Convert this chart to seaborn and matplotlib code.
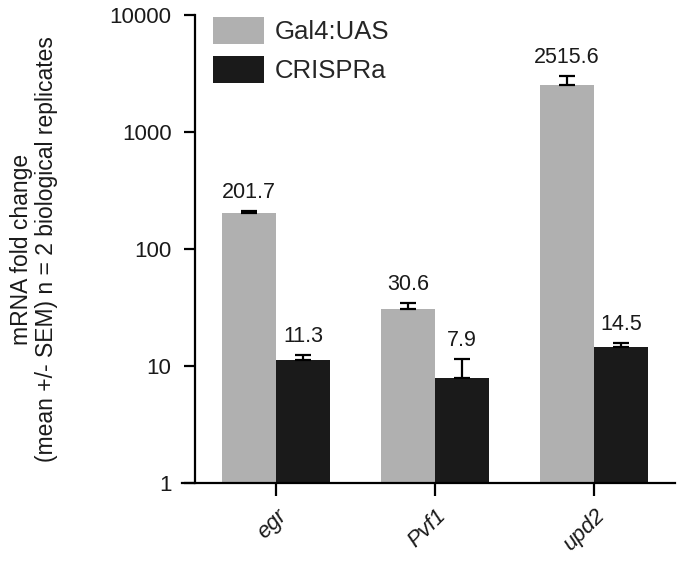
import matplotlib
matplotlib.use('Agg')
import matplotlib.pyplot as plt
import seaborn as sns
import pandas as pd
import numpy as np

genes = ['egr', 'Pvf1', 'upd2']
methods = ['Gal4:UAS', 'CRISPRa']
gal4_mean = [201.7, 30.6, 2515.6]
gal4_sem = [10.0, 4.0, 480.0]
crispra_mean = [11.3, 7.9, 14.5]
crispra_sem = [1.0, 3.6, 1.1]
colors = ['#b0b0b0', '#1a1a1a']
yticks = [1, 10, 100, 1000, 10000]
ytick_labels = ['1', '10', '100', '1000', '10000']
ylabel = 'mRNA fold change\n(mean +/- SEM) n = 2 biological replicates'

df = pd.DataFrame({
    'gene': genes * 2,
    'method': [methods[0]] * 3 + [methods[1]] * 3,
    'value': gal4_mean + crispra_mean,
})
sems = [gal4_sem, crispra_sem]
means = [gal4_mean, crispra_mean]

sns.set_theme(style='ticks')
plt.rcParams['font.family'] = ['Liberation Sans', 'DejaVu Sans']
plt.rcParams['font.size'] = 16

fig = plt.figure(figsize=(6.77, 5.61), dpi=100)
ax = fig.add_axes([182 / 677, 1 - 483 / 561, 493 / 677, 468 / 561])

sns.barplot(data=df, x='gene', y='value', hue='method', palette=colors,
            width=0.68, gap=0, saturation=1, errorbar=None, ax=ax,
            linewidth=0)
ax.set_yscale('log')
ax.set_ylim(1, 10000)
ax.set_xlim(-0.591, 2.509)

for s in ['top', 'right']:
    ax.spines[s].set_visible(False)
ax.spines['left'].set_position(('axes', 13 / 493))
for s in ['left', 'bottom']:
    ax.spines[s].set_linewidth(1.6)
    ax.spines[s].set_color('black')

bar_conts = list(ax.containers)
for ci, cont in enumerate(bar_conts):
    for bi, patch in enumerate(cont.patches):
        x = patch.get_x() + patch.get_width() / 2
        m = means[ci][bi]
        e = sems[ci][bi]
        ax.errorbar([x], [m], yerr=[[0], [e]], fmt='none', ecolor='black',
                    elinewidth=1.6, capsize=5.5, capthick=1.6, zorder=3)
        ax.annotate(f'{m}', xy=(x, m + e), xytext=(0, 6),
                    textcoords='offset points', ha='center', va='bottom',
                    fontsize=15.5, color='#1a1a1a')

ax.set_yticks(yticks)
ax.set_yticklabels(ytick_labels, fontsize=16)
ax.yaxis.set_minor_locator(matplotlib.ticker.NullLocator())
ax.set_xticks(range(len(genes)))
ax.set_xticklabels(genes, rotation=45, ha='right', rotation_mode='anchor',
                   fontstyle='italic', fontsize=16)
ax.tick_params(axis='y', length=8, width=1.6, color='black', pad=9,
               labelcolor='#1a1a1a')
ax.tick_params(axis='x', length=9, width=1.6, color='black', pad=7,
               labelcolor='#1a1a1a')
ax.set_xlabel('')
ax.set_ylabel('')

handles, labels = ax.get_legend_handles_labels()
ax.legend(handles, labels, loc='upper left',
          bbox_to_anchor=(213 / 677, 1 - 17 / 561),
          bbox_transform=fig.transFigure, frameon=False, borderpad=0,
          borderaxespad=0, handlelength=2.0, handleheight=1.25,
          handletextpad=0.4, labelspacing=0.45, fontsize=18.5)

fig.text(34 / 677, 1 - 249 / 561, ylabel, rotation=90, ha='center',
         va='center', multialignment='center', fontsize=16.5,
         linespacing=1.1, color='#1a1a1a')

fig.savefig('out.png', dpi=100)
